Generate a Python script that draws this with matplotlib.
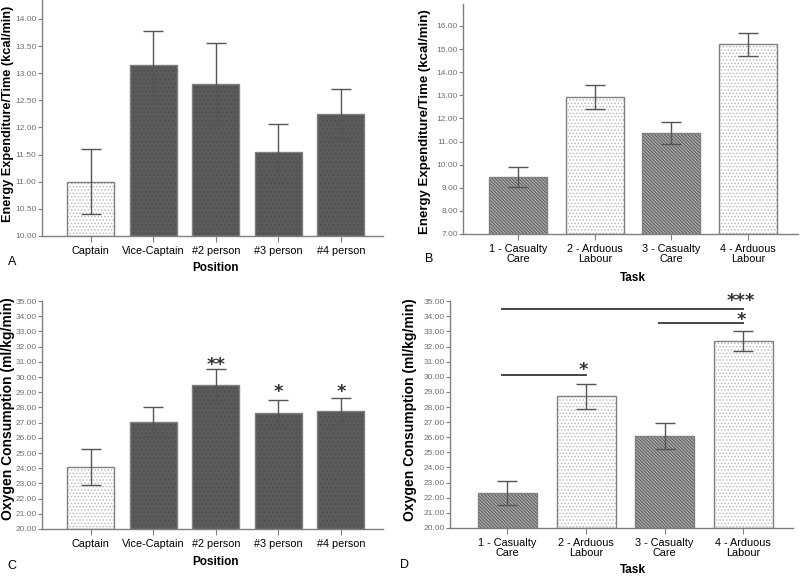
import matplotlib.pyplot as plt

plt.rcParams['font.family'] = ['Liberation Sans', 'DejaVu Sans']
plt.rcParams['hatch.linewidth'] = 0.6

# ---- data ----
pos_labels = ['Captain', 'Vice-Captain', '#2 person', '#3 person', '#4 person']
ee_pos = [11.00, 13.15, 12.80, 11.55, 12.25]
ee_pos_lo = [10.40, 12.52, 12.04, 11.02, 11.78]
ee_pos_hi = [11.60, 13.78, 13.56, 12.07, 12.71]

vo2_pos = [24.10, 27.07, 29.48, 27.62, 27.75]
vo2_pos_lo = [22.90, 26.12, 28.45, 26.73, 26.88]
vo2_pos_hi = [25.25, 28.00, 30.50, 28.50, 28.63]
vo2_pos_stars = ['', '', '**', '*', '*']
vo2_pos_star_y = [0, 0, 30.46, 28.68, 28.68]

task_labels = ['1 - Casualty\nCare', '2 - Arduous\nLabour', '3 - Casualty\nCare', '4 - Arduous\nLabour']
ee_task = [9.45, 12.93, 11.37, 15.20]
ee_task_lo = [9.02, 12.42, 10.88, 14.70]
ee_task_hi = [9.88, 13.45, 11.85, 15.70]

vo2_task = [22.30, 28.72, 26.10, 32.35]
vo2_task_lo = [21.50, 27.90, 25.25, 31.68]
vo2_task_hi = [23.10, 29.52, 26.95, 33.02]
# (from bar, to bar, line height, stars, star baseline)
vo2_task_sig = [(0, 3, 34.47, '***', 34.67), (2, 3, 33.55, '*', 33.41), (0, 1, 30.15, '*', 30.11)]

# bar styles
light = dict(face='white', hatch='.....', hcol='#b5b5b5')
dark_dot = dict(face='#5a5a5a', hatch='....', hcol='#4c4c4c')
dark_line = dict(face='#a8a8a8', hatch='\\\\\\\\\\\\\\\\\\\\', hcol='#505050')
pos_styles = [light, dark_dot, dark_dot, dark_dot, dark_dot]
task_styles = [dark_line, light, dark_line, light]

GREY = '#808080'


def draw_panel(ax, labels, vals, lo, hi, styles, width, xlim, ylim, yticks, ylabel, xlabel, ylsize):
    x = list(range(len(vals)))
    for i, v in enumerate(vals):
        s = styles[i]
        ax.bar(x[i], v - ylim[0], width, bottom=ylim[0], color=s['face'],
               hatch=s['hatch'], edgecolor=s['hcol'], linewidth=0, zorder=2)
        ax.bar(x[i], v - ylim[0], width, bottom=ylim[0], facecolor='none',
               edgecolor=GREY, linewidth=1.0, zorder=3)
    err = [[v - l for v, l in zip(vals, lo)], [h - v for v, h in zip(vals, hi)]]
    ax.errorbar(x, vals, yerr=err, fmt='none', ecolor='#555555', elinewidth=1,
                capsize=7, capthick=1, zorder=4)
    ax.set_xlim(*xlim)
    ax.set_ylim(*ylim)
    ax.set_xticks(x)
    ax.set_xticklabels(labels, fontsize=7.8, linespacing=1.0)
    ax.set_yticks(yticks)
    ax.set_yticklabels(['%.2f' % t for t in yticks], fontsize=6, color='#707070')
    ax.tick_params(axis='y', length=3, width=0.8, color=GREY, pad=1)
    ax.tick_params(axis='x', length=4, width=0.8, color=GREY, pad=3)
    for sp in ['top', 'right']:
        ax.spines[sp].set_visible(False)
    for sp in ['left', 'bottom']:
        ax.spines[sp].set_color(GREY)
        ax.spines[sp].set_linewidth(1.0)
    ax.set_ylabel(ylabel, fontsize=ylsize, fontweight='bold', va='center')
    ax.set_xlabel(xlabel, fontsize=8.5, fontweight='bold', va='center')


fig = plt.figure(figsize=(8, 5.77), dpi=100)

axA = fig.add_axes([0.0525, 0.591, 0.426, 0.409])
draw_panel(axA, pos_labels, ee_pos, ee_pos_lo, ee_pos_hi, pos_styles, 0.75,
           (-0.78, 4.67), (10, 14.35), [10 + 0.5 * i for i in range(9)],
           'Energy Expenditure/Time (kcal/min)', 'Position', 9.2)
axA.yaxis.set_label_coords(-0.10, 0.517)
axA.xaxis.set_label_coords(0.51, -0.136)

axB = fig.add_axes([0.579, 0.5945, 0.419, 0.3985])
draw_panel(axB, task_labels, ee_task, ee_task_lo, ee_task_hi, task_styles, 0.76,
           (-0.72, 3.66), (7, 16.95), [7 + i for i in range(10)],
           'Energy Expenditure/Time (kcal/min)', 'Task', 9.5)
axB.yaxis.set_label_coords(-0.113, 0.487)
axB.xaxis.set_label_coords(0.507, -0.191)

axC = fig.add_axes([0.0525, 0.0832, 0.426, 0.395])
draw_panel(axC, pos_labels, vo2_pos, vo2_pos_lo, vo2_pos_hi, pos_styles, 0.75,
           (-0.78, 4.67), (20, 35), [20 + i for i in range(16)],
           'Oxygen Consumption (ml/kg/min)', 'Position', 10)
axC.yaxis.set_label_coords(-0.10, 0.53)
axC.xaxis.set_label_coords(0.51, -0.145)
for i, s in enumerate(vo2_pos_stars):
    if s:
        axC.text(i, vo2_pos_star_y[i], s, ha='center', va='baseline', family='DejaVu Sans',
                 fontsize=13, fontweight='bold', color='#333333')

axD = fig.add_axes([0.5625, 0.085, 0.4285, 0.393])
draw_panel(axD, task_labels, vo2_task, vo2_task_lo, vo2_task_hi, task_styles, 0.75,
           (-0.73, 3.63), (20, 35), [20 + i for i in range(16)],
           'Oxygen Consumption (ml/kg/min)', 'Task', 10)
axD.yaxis.set_label_coords(-0.117, 0.52)
axD.xaxis.set_label_coords(0.534, -0.185)
for a, b, y, s, sy in vo2_task_sig:
    axD.plot([a - 0.07, b], [y, y], color='#444444', linewidth=1.4, clip_on=False, zorder=5)
    axD.text(b - 0.03, sy, s, ha='center', va='baseline', family='DejaVu Sans', fontsize=13,
             fontweight='bold', color='#333333', clip_on=False)

for lbl, xf, yf in [('A', 0.015, 0.546), ('B', 0.536, 0.551), ('C', 0.015, 0.019), ('D', 0.506, 0.021)]:
    fig.text(xf, yf, lbl, fontsize=9, ha='center', va='center')

fig.savefig('out.png', dpi=100)
